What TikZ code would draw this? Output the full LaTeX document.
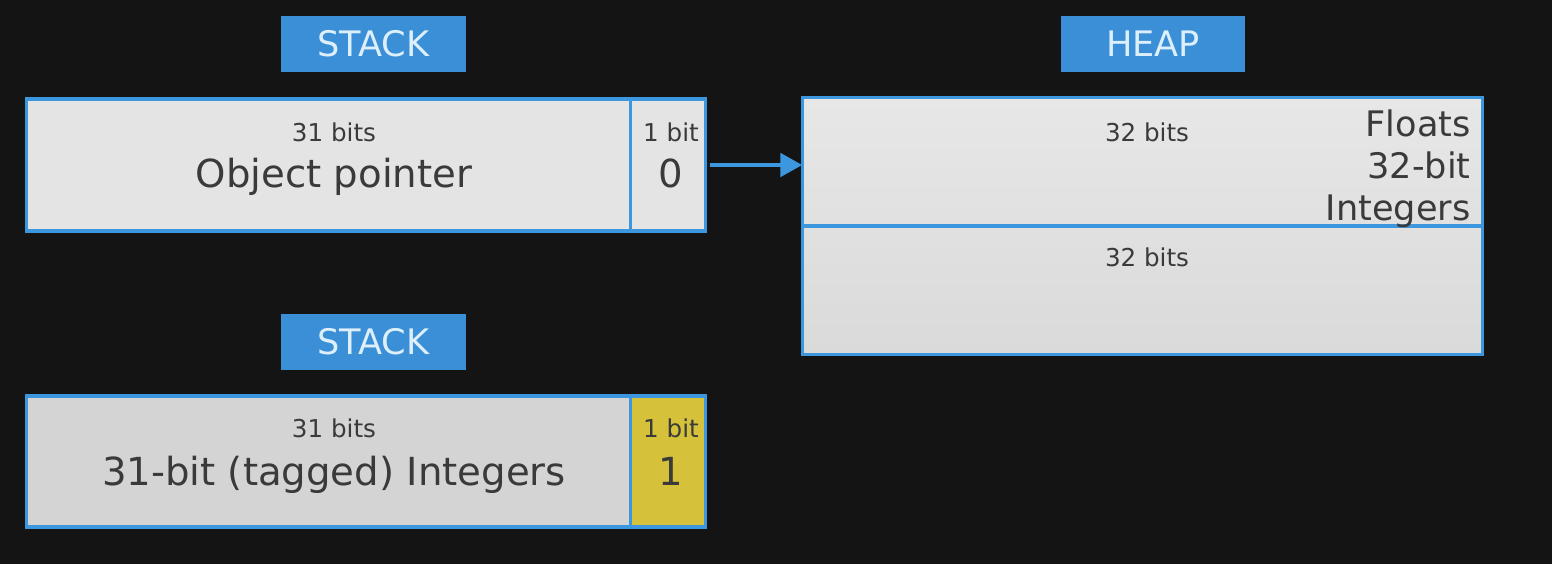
\documentclass[tikz,border=0pt]{standalone}
\usepackage{fontspec}
\setmainfont{DejaVu Sans}
\usetikzlibrary{arrows.meta}
\definecolor{bg}{HTML}{141414}
\definecolor{lblue}{HTML}{3A8FD6}
\definecolor{bord}{HTML}{3D97DE}
\definecolor{cellA}{HTML}{E4E4E4}
\definecolor{cellB}{HTML}{D4D4D4}
\definecolor{heapTop}{HTML}{E7E7E7}
\definecolor{heapBot}{HTML}{DADADA}
\definecolor{ylw}{HTML}{D6C23A}
\definecolor{txt}{HTML}{3A3A3A}
\definecolor{lbltxt}{HTML}{DDEFFB}
\begin{document}
\begin{tikzpicture}[x=0.02cm,y=-0.02cm,
  labelbox/.style={fill=lblue, minimum width=3.7cm, minimum height=1.12cm, inner sep=0pt, text=lbltxt, font=\fontsize{20}{24}\selectfont},
  membox/.style={inner sep=0pt, line width=2pt},
  outline/.style={draw=bord, line width=2pt},
  small/.style={text=txt, font=\fontsize{14}{17}\selectfont, anchor=base, inner sep=0pt},
  big/.style={text=txt, font=\fontsize{22}{26}\selectfont, anchor=base, inner sep=0pt},
  side/.style={text=txt, font=\fontsize{20}{24}\selectfont, anchor=base east, inner sep=0pt},
  conn/.style={draw=bord, line width=2.8pt, -{Triangle[length=0.44cm,width=0.46cm]}}]

\fill[bg] (0,0) rectangle (1552,564);
\useasboundingbox (0,0) rectangle (1552,564);

% labels
\node[labelbox] (lstack1) at (373.5,44) {STACK};
\node[labelbox] (lstack2) at (373.5,342) {STACK};
\node[labelbox] (lheap) at (1153,44) {HEAP};

% top stack word
\node[membox, fill=cellA, minimum width=13.52cm, minimum height=2.56cm] (stk1) at (366,165) {};
\draw[outline] (stk1.north west) rectangle (stk1.south east);
\draw[outline] ([xshift=-1.5cm]stk1.north east) -- ([xshift=-1.5cm]stk1.south east);

% bottom stack word
\node[membox, fill=cellB, minimum width=13.52cm, minimum height=2.56cm] (stk2) at (366,461.5) {};
\fill[ylw] ([xshift=-1.5cm]stk2.north east) rectangle (stk2.south east);
\draw[outline] (stk2.north west) rectangle (stk2.south east);
\draw[outline] ([xshift=-1.5cm]stk2.north east) -- ([xshift=-1.5cm]stk2.south east);

% heap
\node[membox, top color=heapTop, bottom color=heapBot, minimum width=13.54cm, minimum height=5.08cm] (heap) at (1142.5,226) {};
\draw[outline] (heap.north west) rectangle (heap.south east);
\draw[outline] (heap.west) -- (heap.east);

% texts
\node[small] (b31a) at (334,142) {31 bits};
\node[big] (optr) at (334,188) {Object pointer};
\node[small] (b1a) at (671,142) {1 bit};
\node[big] (zero) at (671,188) {0};
\node[small] (b31b) at (334,437) {31 bits};
\node[big] (tint) at (334,485) {31-bit (tagged) Integers};
\node[small] (b1b) at (671,437) {1 bit};
\node[big] (one) at (671,485) {1};
\node[small] (h32a) at (1147,142) {32 bits};
\node[small] (h32b) at (1147,267) {32 bits};
\node[side] (floats) at (1471,137) {Floats};
\node[side] (b32) at (1471,179) {32-bit};
\node[side] (ints) at (1471,221) {Integers};

% pointer arrow
\draw[conn] ([xshift=0.08cm]stk1.east) -- (heap.west |- stk1.east);
\end{tikzpicture}
\end{document}
